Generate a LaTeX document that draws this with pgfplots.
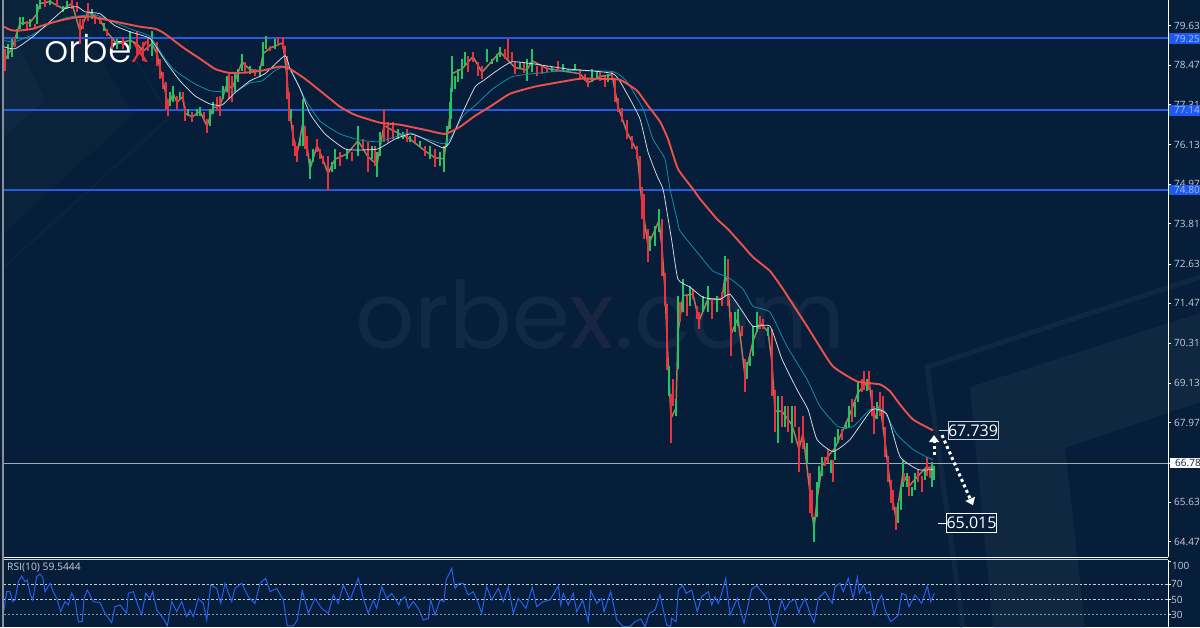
\documentclass[border=0pt]{standalone}
\usepackage{fontspec}
\usepackage{pgfplots}
\usepackage{pgfplotstable}
\pgfplotsset{compat=1.18}
\usetikzlibrary{arrows.meta}
\setmainfont{Open Sans}
\newfontfamily\logofont{Poppins Light}
\newfontfamily\wmfont{Poppins}
\definecolor{bgc}{RGB}{7,30,58}
\definecolor{decoc}{RGB}{15,39,64}
\definecolor{decod}{RGB}{11,34,59}
\definecolor{wmc}{RGB}{17,41,68}
\definecolor{wmx}{RGB}{24,38,66}
\definecolor{hblue}{RGB}{38,90,225}
\definecolor{boxblue}{RGB}{30,90,240}
\definecolor{boxtxt}{RGB}{165,190,225}
\definecolor{candr}{RGB}{232,50,64}
\definecolor{candg}{RGB}{35,195,100}
\definecolor{cand}{RGB}{176,120,90}
\definecolor{mared}{RGB}{235,80,75}
\definecolor{macy}{RGB}{10,145,170}
\definecolor{mawh}{RGB}{215,224,232}
\definecolor{rsic}{RGB}{40,95,235}
\definecolor{lab}{RGB}{200,206,214}

\pgfplotstableread[row sep=\\]{
x lo hi\\
8 78.66 79.10\\ 12 78.72 79.25\\ 17 79.25 79.54\\ 20 79.54 79.90\\ 23 79.66 79.90\\ 30 79.60 79.84\\
37 79.69 80.28\\ 40 80.13 80.43\\ 50 80.25 80.43\\ 63 80.04 80.22\\ 67 80.13 80.37\\ 92 79.84 80.13\\
104 79.48 79.72\\ 117 78.95 79.25\\ 130 78.95 79.46\\ 152 78.75 79.46\\ 170 77.28 77.69\\ 173 77.40 77.87\\
180 77.48 77.69\\ 188 76.98 77.19\\ 197 76.98 77.19\\ 200 76.98 77.25\\ 210 76.69 77.19\\ 213 77.04 77.40\\
223 77.48 77.87\\ 227 77.69 78.16\\ 235 77.69 78.28\\ 238 77.99 78.36\\ 242 78.31 78.81\\ 250 78.22 78.46\\
260 78.13 78.46\\ 263 78.46 79.16\\ 266 78.95 79.34\\ 275 78.95 79.25\\ 291 76.89 77.19\\ 300 76.10 76.30\\
303 76.10 77.48\\ 310 75.13 75.71\\ 313 75.63 76.01\\ 332 75.34 75.63\\ 335 75.42 76.01\\ 347 75.71 76.01\\
358 75.81 76.69\\ 372 75.71 76.10\\ 377 75.19 75.92\\ 380 75.81 76.51\\ 398 76.30 76.60\\ 403 76.30 76.51\\
410 76.22 76.39\\ 420 76.07 76.25\\ 430 75.71 76.10\\ 440 75.51 75.92\\ 444 75.34 76.10\\ 447 76.10 76.69\\
450 76.60 77.40\\ 452 77.69 78.75\\ 451 76.90 77.80\\ 455 77.78 78.16\\ 458 77.99 78.36\\ 462 78.07 78.66\\ 465 78.46 78.87\\
487 78.57 78.95\\ 492 78.51 78.66\\ 497 78.57 78.81\\ 500 78.72 79.01\\ 520 78.36 78.57\\ 527 78.01 78.66\\
532 78.28 78.95\\ 552 78.28 78.43\\ 563 78.31 78.49\\ 568 78.28 78.36\\ 575 78.31 78.51\\ 592 77.99 78.36\\
597 78.07 78.31\\ 608 77.99 78.22\\ 650 73.01 73.45\\ 655 73.16 73.74\\ 659 73.57 74.24\\ 669 68.74 69.62\\
676 68.15 68.65\\ 678 69.53 71.68\\ 683 71.21 72.18\\ 690 71.39 71.98\\ 703 71.21 71.68\\ 708 71.21 71.98\\
717 71.21 71.68\\ 725 71.68 72.86\\ 735 70.62 71.21\\ 738 70.80 71.30\\ 747 69.24 69.74\\ 750 69.62 69.92\\
753 69.92 70.80\\ 757 70.62 71.21\\ 768 70.51 70.77\\ 778 67.38 68.74\\ 785 67.85 68.45\\ 792 67.38 68.45\\
807 66.79 67.38\\ 814 64.47 65.20\\ 817 65.20 66.21\\ 819 66.09 66.68\\ 822 66.39 66.97\\ 831 66.50 66.88\\
835 66.88 67.56\\ 838 67.38 67.77\\ 846 67.77 67.98\\ 849 67.85 68.45\\ 855 68.12 68.56\\ 858 68.56 69.15\\
867 68.89 69.24\\ 877 68.06 68.56\\ 898 65.03 65.62\\ 901 65.41 66.09\\ 903 66.09 66.88\\ 907 66.09 66.50\\
912 65.80 66.09\\ 915 66.00 66.50\\ 925 66.29 66.59\\ 932 66.09 66.80\\ 934 66.29 66.68\\
}\greencandles

\pgfplotstableread[row sep=\\]{
x lo hi\\
5 78.31 78.95\\ 15 79.01 79.31\\ 27 79.54 79.78\\ 35 79.54 79.69\\ 45 80.19 80.43\\ 57 80.19 80.43\\
72 80.13 80.43\\ 77 80.04 80.34\\ 80 79.10 79.84\\ 83 79.54 79.84\\ 88 79.78 80.31\\ 95 79.69 79.98\\
100 79.69 79.90\\ 107 79.34 79.54\\ 112 78.95 79.25\\ 123 78.95 79.31\\ 137 78.75 79.46\\ 143 78.60 79.16\\
148 78.90 79.31\\ 157 78.46 79.16\\ 160 78.07 78.66\\ 163 77.78 78.28\\ 166 77.19 77.99\\ 168 76.98 77.48\\
177 77.19 77.57\\ 183 77.40 77.69\\ 185 76.84 77.28\\ 192 76.81 77.10\\ 204 76.89 77.10\\ 207 76.48 76.89\\
217 77.13 77.54\\ 220 76.98 77.57\\ 229 77.48 78.28\\ 232 77.40 78.16\\ 245 78.28 78.57\\ 255 78.16 78.36\\
270 78.90 79.04\\ 278 79.04 79.31\\ 283 78.95 79.31\\ 285 78.75 79.04\\ 287 77.48 78.75\\ 289 76.84 77.69\\
293 76.10 76.70\\ 295 75.81 76.22\\ 297 75.63 76.10\\ 305 76.01 76.69\\ 307 75.81 76.39\\ 317 75.92 76.30\\
320 75.71 76.01\\ 323 75.57 75.81\\ 328 74.77 75.81\\ 340 75.51 75.92\\ 352 75.66 75.92\\ 363 76.01 76.30\\
368 75.34 76.22\\ 375 75.51 76.10\\ 384 76.22 77.19\\ 388 76.22 76.81\\ 393 76.30 76.81\\ 407 76.22 76.60\\
415 76.22 76.39\\ 425 75.81 76.10\\ 435 75.48 76.01\\ 468 78.28 78.75\\ 473 78.57 78.87\\ 478 78.16 78.57\\
482 78.07 78.46\\ 505 78.66 78.95\\ 508 78.66 79.25\\ 512 78.57 78.87\\ 515 78.22 78.57\\ 524 78.25 78.54\\
537 78.16 78.46\\ 542 78.22 78.46\\ 547 78.28 78.46\\ 558 78.28 78.60\\ 580 78.07 78.36\\ 585 78.01 78.22\\
588 77.84 78.07\\ 600 78.01 78.28\\ 605 77.84 78.16\\ 612 78.07 78.31\\ 615 77.40 78.05\\ 618 77.10 77.50\\
622 76.81 77.20\\ 627 76.30 76.85\\ 632 76.01 76.40\\ 637 75.71 76.10\\ 640 74.83 75.80\\ 642 73.95 74.90\\
644 73.36 74.69\\ 648 72.69 73.65\\ 662 72.27 73.95\\ 665 71.39 72.35\\ 667 69.50 71.45\\ 671 67.38 68.80\\
673 68.45 69.24\\ 680 70.92 71.51\\ 687 71.09 71.68\\ 693 71.59 71.89\\ 697 71.00 71.39\\ 699 70.71 71.21\\
712 71.00 71.59\\ 722 71.39 71.80\\ 728 71.39 72.77\\ 731 69.92 71.21\\ 742 70.51 70.80\\ 745 68.86 69.83\\
760 70.71 71.09\\ 763 70.71 71.00\\ 772 68.74 70.71\\ 775 67.68 68.94\\ 782 67.85 68.74\\ 788 67.68 68.45\\
795 67.85 68.45\\ 799 66.53 67.85\\ 803 67.18 68.15\\ 810 65.32 66.50\\ 812 65.20 66.00\\ 825 66.68 66.97\\
828 66.79 67.18\\ 833 66.21 66.88\\ 842 67.47 67.77\\ 852 67.98 68.65\\ 862 68.86 69.24\\ 864 68.94 69.48\\
869 68.94 69.48\\ 872 68.15 68.94\\ 874 67.62 68.45\\ 880 68.15 68.86\\ 883 67.85 68.74\\ 885 66.97 67.85\\
888 66.21 67.00\\ 891 65.62 66.29\\ 893 65.41 66.00\\ 896 64.82 65.50\\ 904 66.21 66.50\\ 909 65.80 66.39\\
918 66.21 66.59\\ 922 65.92 66.39\\ 927 66.39 66.97\\ 930 66.35 66.68\\
}\redcandles

\begin{document}
\begin{tikzpicture}
\useasboundingbox (0pt,0pt) rectangle (1200pt,627pt);

% background, logo and watermark
\begin{axis}[at={(0pt,0pt)},anchor=south west,scale only axis,width=1200pt,height=627pt,
  xmin=0,xmax=1200,ymin=0,ymax=627,y dir=reverse,hide axis,clip=true]
\fill[bgc] (0,0) rectangle (1200,627);
% upper left chevrons
\fill[decod] (4,0)--(68,0)--(133,115)--(4,233)--cycle;
\fill[decoc] (4,30)--(18,45)--(45,100)--(4,137)--cycle;
\draw[decod,line width=3pt] (118,30)--(170,117)--(4,267);
% lower right chevrons
\draw[decoc,line width=5pt] (1200,277)--(927,367)--(963,627);
\fill[decoc] (970,387)--(1200,313)--(1200,402)--(1065,448)--(1085,627)--(993,627)--cycle;
% watermark
\node[anchor=base west,inner sep=0pt,font=\wmfont\fontsize{93}{93}\selectfont,text=wmc] at (355,348) {orbe\textcolor{wmx}{x}.com};
% logo
\node[anchor=base west,inner sep=0pt,font=\logofont\fontsize{38}{38}\selectfont,text=white] at (44,62) {orbe\textcolor{candr}{x}};
% frame
\draw[black!30!lab,line width=1.2pt] (3,0)--(3,627);
\draw[white,line width=1pt] (4,557)--(1168,557);
\draw[lab,line width=1pt] (4,559.5)--(1168,559.5);
\end{axis}

% price panel
\begin{axis}[at={(4pt,70pt)},anchor=south west,scale only axis,width=1164pt,height=557pt,
  xmin=4,xmax=1168,ymin=64.02,ymax=80.385,
  axis y line*=right,axis x line=none,
  axis line style={white,line width=1pt,-},
  tick style={white,line width=.8pt},major tick length=3pt,tick align=outside,
  ytick={64.47,65.63,66.78,67.97,69.13,70.31,71.47,72.63,73.81,74.97,76.13,77.31,78.47,79.63},
  yticklabels={64.47,65.63,66.78,67.97,69.13,70.31,71.47,72.63,73.81,74.97,76.13,77.31,78.47,79.63},
  yticklabel style={anchor=west,inner sep=0pt,xshift=3pt,font=\fontsize{10}{10}\selectfont,text=lab},
  clip=true]
\addplot[hblue,line width=1.7pt,forget plot] coordinates {(4,79.26) (1168,79.26)};
\addplot[hblue,line width=1.7pt,forget plot] coordinates {(4,77.16) (1168,77.16)};
\addplot[hblue,line width=1.7pt,forget plot] coordinates {(4,74.81) (1168,74.81)};
\addplot[lab!80!bgc,line width=.8pt,forget plot] coordinates {(4,66.78) (1168,66.78)};

% closing price path behind the candles
\addplot[cand,line width=1.5pt,forget plot] coordinates {
(5,78.63)(12,78.98)(20,79.7)(30,79.72)(37,79.98)(40,80.28)(50,80.34)(63,80.13)(72,80.28)(80,79.47)(88,80.05)(100,79.8)
(107,79.44)(117,79.1)(130,79.2)(137,79.1)(143,78.88)(152,79.1)(157,78.8)(160,78.36)(163,78.03)(166,77.59)(168,77.23)
(173,77.63)(177,77.38)(183,77.55)(185,77.06)(192,76.95)(200,77.11)(207,76.68)(213,77.22)(220,77.27)(227,77.92)(232,77.78)
(242,78.56)(250,78.34)(260,78.3)(263,78.81)(270,78.97)(283,79.13)(287,78.11)(289,77.26)(293,76.4)(297,75.86)(303,76.79)
(307,76.1)(310,75.42)(317,76.11)(323,75.69)(328,75.29)(335,75.71)(347,75.86)(358,76.25)(368,75.78)(377,75.55)(384,76.7)
(393,76.55)(410,76.3)(425,75.95)(435,75.75)(444,75.72)(450,77)(452,78.22)(462,78.36)(473,78.72)(482,78.26)(500,78.86)
(515,78.4)(527,78.33)(532,78.6)(547,78.37)(580,78.22)(588,77.95)(600,78.14)(612,78.19)(618,77.25)(627,76.5)(637,75.95)
(642,74.4)(648,73.17)(659,73.9)(662,73.1)(665,71.87)(667,70.47)(671,68.1)(676,68.4)(678,70.6)(683,71.7)(693,71.74)
(699,70.96)(708,71.6)(722,71.6)(725,72.27)(728,72.08)(731,70.56)(738,71.05)(745,69.34)(753,70.36)(760,70.9)(768,70.64)
(772,69.72)(775,68.31)(782,68.3)(792,67.9)(799,67.19)(803,67.66)(810,65.9)(814,64.84)(817,65.7)(822,66.68)(828,66.98)
(835,67.22)(849,68.15)(858,68.85)(869,69.21)(874,68.03)(880,68.5)(885,67.41)(891,65.95)(896,65.16)(903,66.48)(909,66.1)
(918,66.4)(927,66.68)(934,66.48)};

\addplot[draw=none,forget plot,error bars/.cd,y dir=plus,y explicit,error mark=none,
  error bar style={draw=candg,line width=1.9pt,solid}]
  table[x=x,y=lo,y error expr=\thisrow{hi}-\thisrow{lo}] {\greencandles};
\addplot[draw=none,forget plot,error bars/.cd,y dir=plus,y explicit,error mark=none,
  error bar style={draw=candr,line width=1.9pt,solid}]
  table[x=x,y=lo,y error expr=\thisrow{hi}-\thisrow{lo}] {\redcandles};

% moving averages
\addplot[macy,line width=.8pt,smooth,tension=.3,forget plot] coordinates {
(4,79.19)(15,79.16)(33,79.37)(50,79.69)(67,79.87)(80,79.92)(95,79.95)(110,79.78)(130,79.54)(150,79.31)
(165,78.66)(175,78.31)(195,77.92)(210,77.72)(222,77.69)(235,77.69)(250,77.95)(262,78.01)(275,78.31)(287,78.45)
(293,78.22)(305,77.48)(320,76.83)(340,76.45)(360,76.27)(378,76.22)(395,76.36)(410,76.48)(420,76.36)(443,76.16)
(450,76.30)(463,76.98)(475,77.28)(493,77.78)(512,78.13)(533,78.22)(567,78.31)(613,78.28)(627,77.98)(643,77.19)
(653,76.30)(665,75.71)(670,74.83)(677,73.95)(680,73.60)(697,72.98)(713,72.42)(728,72.24)(743,71.89)(753,71.39)
(770,71.21)(787,70.21)(807,69.24)(820,68.45)(838,67.85)(853,67.85)(870,68.35)(883,68.35)(897,67.62)(913,67.18)
(928,66.94)(933,66.88)};
\addplot[mawh,line width=.75pt,smooth,tension=.3,forget plot] coordinates {
(4,79.01)(15,78.95)(33,79.31)(50,79.75)(65,80.13)(77,80.19)(85,80.04)(100,79.98)(115,79.63)(130,79.45)(150,79.25)
(165,78.60)(180,78.01)(195,77.57)(210,77.33)(222,77.30)(235,77.66)(250,78.01)(265,78.22)(285,78.75)(290,78.36)
(300,77.78)(310,77.04)(325,76.45)(345,76.01)(360,75.98)(378,76.01)(395,76.30)(410,76.45)(420,76.36)(443,76.04)
(450,76.22)(463,77.10)(475,77.83)(483,78.01)(497,78.31)(512,78.57)(533,78.51)(567,78.36)(613,78.22)(627,77.63)
(640,76.89)(648,75.92)(657,75.22)(663,74.83)(667,74.16)(672,73.27)(678,72.18)(690,71.95)(703,71.65)(720,71.59)
(730,71.74)(743,71.21)(753,70.80)(770,70.80)(782,69.83)(797,68.94)(808,68.35)(817,67.47)(833,67.12)(850,67.47)
(872,68.35)(887,68.21)(900,66.97)(918,66.59)(933,66.59)};
\addplot[mared,line width=1.9pt,smooth,tension=.3,forget plot] coordinates {
(4,79.60)(10,79.51)(17,79.48)(33,79.54)(45,79.66)(60,79.78)(75,79.87)(90,79.90)(100,79.84)(110,79.78)(125,79.69)
(140,79.60)(155,79.54)(163,79.43)(170,79.28)(185,78.95)(200,78.66)(215,78.36)(228,78.25)(245,78.25)(262,78.31)
(280,78.43)(290,78.36)(305,78.07)(320,77.72)(340,77.25)(355,77.01)(380,76.78)(400,76.72)(425,76.57)(445,76.45)
(460,76.66)(475,76.98)(490,77.25)(510,77.63)(535,77.84)(567,78.01)(580,78.07)(600,78.07)(620,78.04)(637,77.72)
(648,77.28)(660,76.81)(668,76.30)(678,75.42)(693,74.83)(700,74.54)(717,73.95)(728,73.65)(743,73.16)(753,72.83)
(770,72.42)(783,71.89)(807,70.80)(817,70.33)(833,69.62)(857,69.18)(880,69.09)(890,68.89)(900,68.50)(913,68.06)
(933,67.74)};

% forecast arrows and targets
\addplot[white,line width=3pt,dash pattern=on 3pt off 3pt,-{Triangle[length=7pt,width=10pt]},forget plot]
  coordinates {(934,67.02) (934,67.60)};
\addplot[white,line width=3pt,dash pattern=on 3pt off 3pt,-{Triangle[length=7pt,width=10pt]},forget plot]
  coordinates {(942,67.60) (973,65.54)};
\addplot[lab,line width=1.6pt,forget plot] coordinates {(939,67.739) (948,67.739)};
\addplot[white,line width=1pt,forget plot] coordinates {(938,65.015) (946,65.015)};
\node[anchor=center,draw=lab,line width=1pt,fill=bgc,text=white,inner sep=0pt,minimum width=50pt,minimum height=18pt,
  font=\fontsize{16}{16}\selectfont] at (973,67.739) {67.739};
\node[anchor=center,draw=white!90!lab,line width=1pt,fill=bgc,text=white,inner sep=0pt,minimum width=50pt,minimum height=19pt,
  font=\fontsize{16}{16}\selectfont] at (971.5,65.015) {65.015};
\end{axis}

% price tags on the scale
\begin{axis}[at={(4pt,70pt)},anchor=south west,scale only axis,width=1164pt,height=557pt,
  xmin=4,xmax=1168,ymin=64.02,ymax=80.385,hide axis,clip=false]
\addplot[draw=none,forget plot] coordinates {(4,70) (1168,70)};
\node[anchor=west,fill=boxblue,text=boxtxt,inner xsep=5pt,inner ysep=0pt,minimum height=10.5pt,text width=26pt,font=\fontsize{10}{10}\selectfont] at (1169,79.25) {79.25};
\node[anchor=west,fill=boxblue,text=boxtxt,inner xsep=5pt,inner ysep=0pt,minimum height=10.5pt,text width=26pt,font=\fontsize{10}{10}\selectfont] at (1169,77.14) {77.14};
\node[anchor=west,fill=boxblue,text=boxtxt,inner xsep=5pt,inner ysep=0pt,minimum height=10.5pt,text width=26pt,font=\fontsize{10}{10}\selectfont] at (1169,74.80) {74.80};
\node[anchor=west,fill=white,text=bgc,inner xsep=5pt,inner ysep=0pt,minimum height=10pt,text width=26pt,font=\fontsize{10}{10}\selectfont] at (1170,66.78) {66.78};
\end{axis}

% RSI panel
\begin{axis}[at={(4pt,0pt)},anchor=south west,scale only axis,width=1164pt,height=67.5pt,
  xmin=4,xmax=1168,ymin=14.25,ymax=102,
  axis y line*=right,axis x line=none,
  axis line style={white,line width=1pt,-},
  tick style={white,line width=.8pt},major tick length=3pt,tick align=outside,
  ytick={30,50,70,100},yticklabels={30,50,70,},
  yticklabel style={anchor=west,inner sep=0pt,xshift=0pt,font=\fontsize{10}{10}\selectfont,text=lab},
  clip=true]
\addplot[lab,line width=.8pt,dash pattern=on 2.5pt off 2pt,forget plot] coordinates {(4,70) (1168,70)};
\addplot[lab,line width=.8pt,dash pattern=on 2.5pt off 2pt,forget plot] coordinates {(4,50) (1168,50)};
\addplot[lab!70!bgc,line width=.9pt,dash pattern=on 2pt off 2pt,forget plot] coordinates {(4,30) (1168,30)};
\addplot[rsic,line width=1pt,forget plot] coordinates {
(4,36.4)(6.7,60.2)(10,60.2)(12.7,47.2)(15,49.4)(18.3,73.2)(21.7,80.5)(25,73.2)(27.3,75.3)(30,58)(32.7,49.4)
(36.7,79.7)(40,83.1)(42.7,78.8)(45,60.2)(50,71)(53.3,60.2)(56.7,51.5)(60.7,34.2)(65,47.2)(68.3,42.9)(71.7,58)
(75,49.4)(78.3,21.2)(82.3,21.2)(84,51.5)(87.3,62.3)(93.3,47.2)(100,46)(105,32)(111.7,19.9)(115,40.7)(120,42.9)
(126.7,32)(128.3,58)(133.3,60.2)(138.3,40.7)(141.7,29.9)(145.7,58)(150,51.5)(152.7,60.2)(156.7,36.4)(163.3,25.5)
(167.3,15.6)(171.7,47.2)(176.7,34.2)(181.7,47.2)(186.7,27.7)(190,36.4)(193.3,27.7)(198.3,51.5)(203.3,45)(206.7,23.4)
(210.7,68.8)(216.7,64.5)(220.7,45)(225,71)(231.7,47.2)(235,64.5)(241.7,71)(248.3,53.7)(255,45)(260,71)(265.7,77.5)
(270,60.2)(276.7,64.5)(283.3,49.4)(287.3,15.6)(293.3,15.6)(297.3,23.4)(302.3,61.5)(308.3,32)(315,51.5)(321.7,38.5)
(328.3,32)(333.3,55.8)(338.3,45)(343.3,68.8)(350,49.4)(358.3,77.5)(363.3,51.5)(368.3,32)(373.3,49.4)(376.7,38.5)
(381.7,66.7)(386.7,51.5)(391.7,58)(399,42.9)
(400,47.2)(405,53.7)(408.3,38.5)(413.3,47.2)(418.3,38.5)(423.3,23.4)(428.3,25.5)(430.7,49.4)(435,29.9)(440,49.4)
(444,47.2)(446,75)(451.7,90.5)(455,64.5)(459.3,71)(463.3,71)(468.3,55.8)(473.3,60.2)(478.3,45)(481.7,32)(486.7,66.7)
(491.7,49.4)(498.3,64.5)(503.3,47.2)(508.3,66.7)(513.3,32)(518.3,51.5)(526,38.5)(532.3,65.8)(536.7,40.7)(543.3,47.2)
(550,49.4)(558.3,67.6)(560.7,42.9)(563.3,58)(568.3,42.9)(573.3,58)(576.7,34.2)(582.7,49.4)(588.3,21.2)(590.7,61.5)
(596.7,45)(601.7,51.5)(604,34.2)(610.7,60.2)(616.7,23.4)(623.3,14.7)(630,14.7)(635,21.2)(640.7,24.6)(645,14.7)
(649.3,32)(655,36.4)(660,55.8)(666.7,16.7)(670.7,14.7)(671.7,25.5)(676,21.2)(678.3,62.3)(682.7,68.8)(686,58)
(691.7,62.3)(697.3,34.2)(701.7,53.7)(708.3,60.2)(711.7,42.9)(715,53.7)(718.3,45)(721.7,58)(725.7,77.5)(730,29.9)
(737.3,51.5)(744,19)(751.7,63.4)(756.7,68)(768.3,49.4)(771.7,23.4)(775,14.7)(781.7,49.4)(785,36.4)(790,47.2)
(795,50.2)(799,32)
(800,38.5)(805,51.5)(810,32)(814,19.9)(818.3,51.5)(825,60.2)(832.3,45)(835,66.7)(840,71)(843.3,60.2)(848.3,77.5)
(853.3,51.5)(857.3,78.8)(859.3,58)(863.3,68.8)(866.7,58)(870,60.2)(874,29.9)(877.3,45)(881.7,55.8)(885,36.4)
(890.7,21.2)(895,25.5)(898.3,29.9)(901.7,58)(906,55.8)(909,40.7)(915,55.8)(921.7,45)(927.3,67.6)(930.7,47.2)(934.3,58)};
\node[anchor=west,inner sep=0pt,text=lab,font=\fontsize{10.3}{10.3}\selectfont] at (7,92) {RSI(10) 59.5444};
\end{axis}
\begin{axis}[at={(4pt,0pt)},anchor=south west,scale only axis,width=1164pt,height=67.5pt,
  xmin=4,xmax=1168,ymin=14.25,ymax=102,hide axis,clip=false]
\addplot[draw=none,forget plot] coordinates {(4,50) (1168,50)};
\node[anchor=west,inner sep=0pt,text=lab,font=\fontsize{10}{10}\selectfont] at (1172,93.5) {100};
\end{axis}
\end{tikzpicture}
\end{document}
